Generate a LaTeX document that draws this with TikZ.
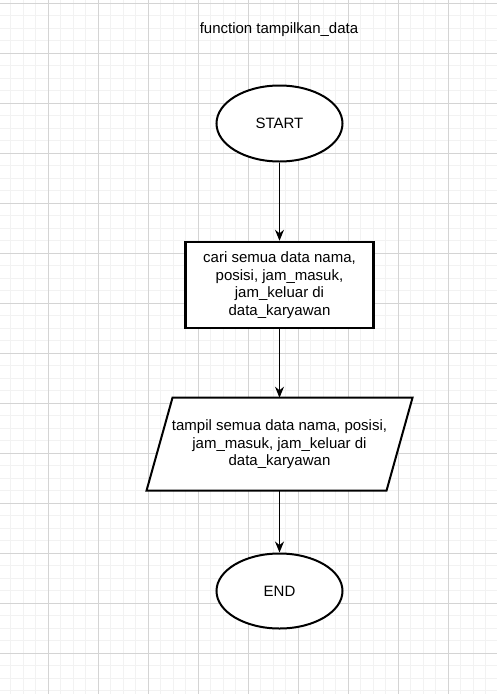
\documentclass[tikz,border=0pt]{standalone}
\usepackage{fontspec}
\setmainfont{Liberation Sans}
\usetikzlibrary{arrows.meta,calc,shapes.geometric}
\definecolor{gridminor}{HTML}{F2F2F2}
\definecolor{gridmajor}{HTML}{D4D4D4}
\pgfdeclarelayer{gridlayer}
\pgfdeclarelayer{shapelayer}
\pgfsetlayers{gridlayer,shapelayer,main}
\tikzset{
  fc/.style={font=\fontsize{15}{17.5}\selectfont, align=center, text=black},
  termbox/.style={fc, ellipse, draw=black, line width=2pt, fill=white, inner sep=0pt},
  procbox/.style={fc, rectangle, draw=black, line width=2.5pt, fill=white, inner sep=0pt},
  iobox/.style={fc, rectangle, draw=none, inner sep=0pt, outer sep=1pt},
  flow/.style={draw=black, line width=1.1pt, -{Stealth[length=11pt,width=9pt]}},
}
\begin{document}
\begin{tikzpicture}[x=1pt,y=-1pt]
\useasboundingbox (0,0) rectangle (497,694);
\begin{pgfonlayer}{gridlayer}
\fill[white] (0,0) rectangle (497,694);
\foreach \k in {0,...,39} {
  \draw[gridminor, line width=1pt] ({10.8+12.5*\k},0) -- ({10.8+12.5*\k},694);
}
\foreach \k in {0,...,55} {
  \draw[gridminor, line width=1pt] (0,{3.3+12.5*\k}) -- (497,{3.3+12.5*\k});
}
\foreach \k in {0,...,9} {
  \draw[gridmajor, line width=1pt] ({48.3+50*\k},0) -- ({48.3+50*\k},694);
}
\foreach \k in {0,...,13} {
  \draw[gridmajor, line width=1pt] (0,{3.3+50*\k}) -- (497,{3.3+50*\k});
}
\end{pgfonlayer}
% title
\node[fc] (title) at (279,30) {function tampilkan\_data};
% nodes
\node[termbox, minimum width=126pt, minimum height=76pt] (start) at (279.5,123.5) {START};
\node[procbox, minimum width=188pt, minimum height=86pt] (proc) at (279.5,285) {cari semua data nama,\\posisi, jam\_masuk,\\jam\_keluar di\\data\_karyawan};
\node[iobox, minimum width=238pt, minimum height=91pt] (io) at (279.5,444.2) {tampil semua data nama, posisi,\\jam\_masuk, jam\_keluar di\\data\_karyawan};
\begin{pgfonlayer}{shapelayer}
\draw[line width=2pt, line join=miter, fill=white]
  ($(io.north west)+(13,0)$) -- ($(io.north east)+(13,0)$) --
  ($(io.south east)+(-13,0)$) -- ($(io.south west)+(-13,0)$) -- cycle;
\end{pgfonlayer}
\node[termbox, minimum width=126pt, minimum height=75pt] (end) at (279.5,591) {END};
% connectors
\draw[flow] (start) -- (proc);
\draw[flow] (proc) -- (io);
\draw[flow] (io) -- (end);
\end{tikzpicture}
\end{document}
